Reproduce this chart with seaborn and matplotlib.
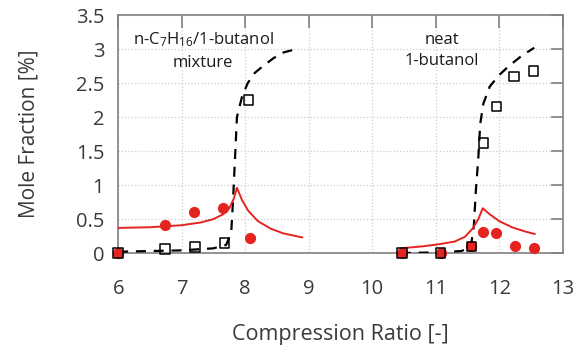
import numpy as np
import pandas as pd
import matplotlib.pyplot as plt
import seaborn as sns

# Mixture (n-heptane / 1-butanol) - measured data
mix_cr = [6.0, 6.74, 7.21, 7.67, 8.05]
mix_sq = [0.0, 0.06, 0.09, 0.15, 2.25]
mix_dot_cr = [6.0, 6.74, 7.2, 7.65, 8.07]
mix_dot = [0.0, 0.42, 0.6, 0.67, 0.22]

# Mixture - simulation curves
mix_dash_cr = [6.0, 6.5, 7.0, 7.5, 7.7, 7.78, 7.81, 7.84, 7.87, 7.95, 8.04, 8.15, 8.28, 8.45, 8.6, 8.8]
mix_dash = [0.02, 0.03, 0.04, 0.07, 0.12, 0.3, 0.8, 1.4, 2.0, 2.3, 2.5, 2.65, 2.75, 2.87, 2.95, 3.0]
mix_red_cr = [6.0, 6.5, 7.0, 7.3, 7.5, 7.65, 7.75, 7.82, 7.87, 7.95, 8.05, 8.2, 8.4, 8.6, 8.9]
mix_red = [0.37, 0.38, 0.41, 0.45, 0.5, 0.57, 0.66, 0.8, 0.96, 0.78, 0.62, 0.47, 0.36, 0.29, 0.23]

# Neat 1-butanol - measured data
neat_cr = [10.47, 11.08, 11.56, 11.75, 11.96, 12.23, 12.54]
neat_sq = [0.0, 0.0, 0.1, 1.62, 2.16, 2.6, 2.68]
neat_dot_cr = [10.47, 11.08, 11.56, 11.75, 11.95, 12.25, 12.55]
neat_dot = [0.0, 0.0, 0.1, 0.31, 0.3, 0.1, 0.08]

# Neat 1-butanol - simulation curves
neat_dash_cr = [10.45, 11.0, 11.4, 11.55, 11.6, 11.63, 11.67, 11.7, 11.75, 11.85, 12.0, 12.15, 12.35, 12.55]
neat_dash = [0.0, 0.01, 0.03, 0.08, 0.4, 0.9, 1.4, 1.9, 2.2, 2.45, 2.62, 2.75, 2.9, 3.02]
neat_red_cr = [10.45, 10.8, 11.05, 11.3, 11.46, 11.58, 11.67, 11.74, 11.85, 12.0, 12.2, 12.4, 12.56]
neat_red = [0.07, 0.1, 0.13, 0.17, 0.24, 0.36, 0.5, 0.66, 0.57, 0.47, 0.38, 0.32, 0.28]

sns.set_theme(style="white")
plt.rcParams['font.family'] = ['Open Sans', 'DejaVu Sans']
plt.rcParams['mathtext.fontset'] = 'custom'
plt.rcParams['mathtext.rm'] = 'Open Sans'
plt.rcParams['mathtext.it'] = 'Open Sans'

red = '#e52421'
gray = '#808080'
txt = '#3a3a3a'

fig, ax = plt.subplots(figsize=(5.82, 3.52), dpi=100)
fig.subplots_adjust(left=0.203, right=0.967, bottom=0.281, top=0.957)

for cr, val in [(mix_dash_cr, mix_dash), (neat_dash_cr, neat_dash)]:
    sns.lineplot(x=cr, y=val, ax=ax, color='black', lw=1.6, estimator=None,
                 sort=False, dashes=False, linestyle=(0, (4.5, 3.5)), zorder=3)
for cr, val in [(mix_red_cr, mix_red), (neat_red_cr, neat_red)]:
    sns.lineplot(x=cr, y=val, ax=ax, color=red, lw=1.4, estimator=None,
                 sort=False, zorder=3)

for cr, val in [(mix_dot_cr, mix_dot), (neat_dot_cr, neat_dot)]:
    sns.scatterplot(x=cr, y=val, ax=ax, color=red, s=65, marker='o',
                    linewidth=0, zorder=4, clip_on=False)
for cr, val in [(mix_cr, mix_sq), (neat_cr, neat_sq)]:
    sns.scatterplot(x=cr, y=val, ax=ax, facecolor='none', edgecolor='black',
                    s=45, marker='s', linewidth=1.1, zorder=5, clip_on=False)

ax.set_xlim(6, 13)
ax.set_ylim(0, 3.5)
ax.set_xticks(np.arange(6, 14, 1))
ax.set_yticks(np.arange(0, 3.6, 0.5))
ax.set_yticklabels(['0', '0.5', '1', '1.5', '2', '2.5', '3', '3.5'])
ax.grid(True, color='#cccccc', linestyle=':', linewidth=0.9)
ax.tick_params(direction='in', length=9, width=1.2, color=gray,
               top=True, right=True, labelsize=14.5, labelcolor=txt)
ax.tick_params(axis='x', pad=19)
ax.tick_params(axis='y', pad=10)
for sp in ax.spines.values():
    sp.set_color(gray)
    sp.set_linewidth(1.2)

ax.set_xlabel('Compression Ratio [-]', fontsize=15.5, color=txt, labelpad=18)
ax.set_ylabel('Mole Fraction [%]', fontsize=15, color=txt, labelpad=26)

ax.text(7.34, 2.98, 'n-C$_7$H$_{16}$/1-butanol\nmixture', ha='center', va='center',
        fontsize=12, color='#1a1a1a', linespacing=1.45)
ax.text(11.1, 2.98, 'neat\n1-butanol', ha='center', va='center',
        fontsize=12, color='#1a1a1a', linespacing=1.45)

fig.savefig('out.png', dpi=100)
